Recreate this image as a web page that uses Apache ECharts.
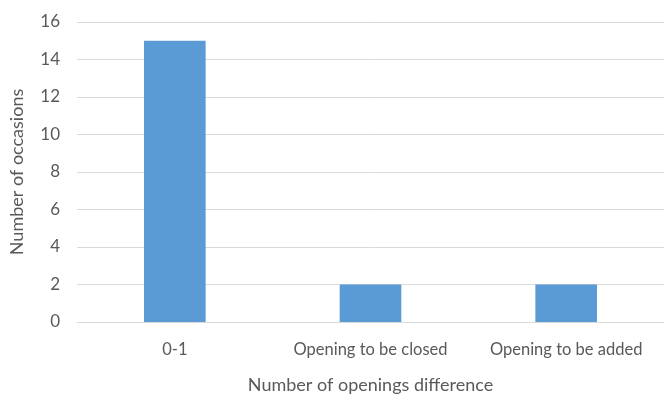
<!DOCTYPE html>
<html><head><meta charset="utf-8">
<script src="https://cdn.jsdelivr.net/npm/echarts@6/dist/echarts.min.js"></script>
<style>html,body{margin:0;padding:0;background:#fff}#c{width:664px;height:399px}</style>
</head><body><div id="c"></div>
<script>
const categories = ["0-1", "Opening to be closed", "Opening to be added"];
const occasions = [15, 2, 2];
const yTicks = [0, 2, 4, 6, 8, 10, 12, 14, 16];

const font = "Lato, 'Open Sans', sans-serif";
const chart = echarts.init(document.getElementById('c'));
chart.setOption({
  animation: false,
  grid: { left: 72, right: 0, top: 22, bottom: 73, containLabel: false },
  xAxis: {
    type: 'category', data: categories,
    axisLine: { lineStyle: { color: '#D9D9D9' } },
    axisTick: { show: false },
    axisLabel: { color: '#595959', fontFamily: font, fontSize: 16.5, margin: 19, interval: 0, hideOverlap: false },
    name: 'Number of openings difference', nameLocation: 'middle', nameGap: 54,
    nameTextStyle: { color: '#595959', fontFamily: font, fontSize: 18 }
  },
  yAxis: {
    type: 'value', min: yTicks[0], max: yTicks[yTicks.length - 1], interval: 2,
    axisLine: { show: false }, axisTick: { show: false },
    splitLine: { lineStyle: { color: '#D9D9D9' } },
    axisLabel: { color: '#595959', fontFamily: font, fontSize: 17, margin: 17 },
    name: 'Number of occasions', nameLocation: 'middle', nameGap: 51,
    nameTextStyle: { color: '#595959', fontFamily: font, fontSize: 18 }
  },
  series: [{
    type: 'bar', data: occasions, barWidth: '31.5%',
    itemStyle: { color: '#5B9BD5' }
  }]
});
</script></body></html>
